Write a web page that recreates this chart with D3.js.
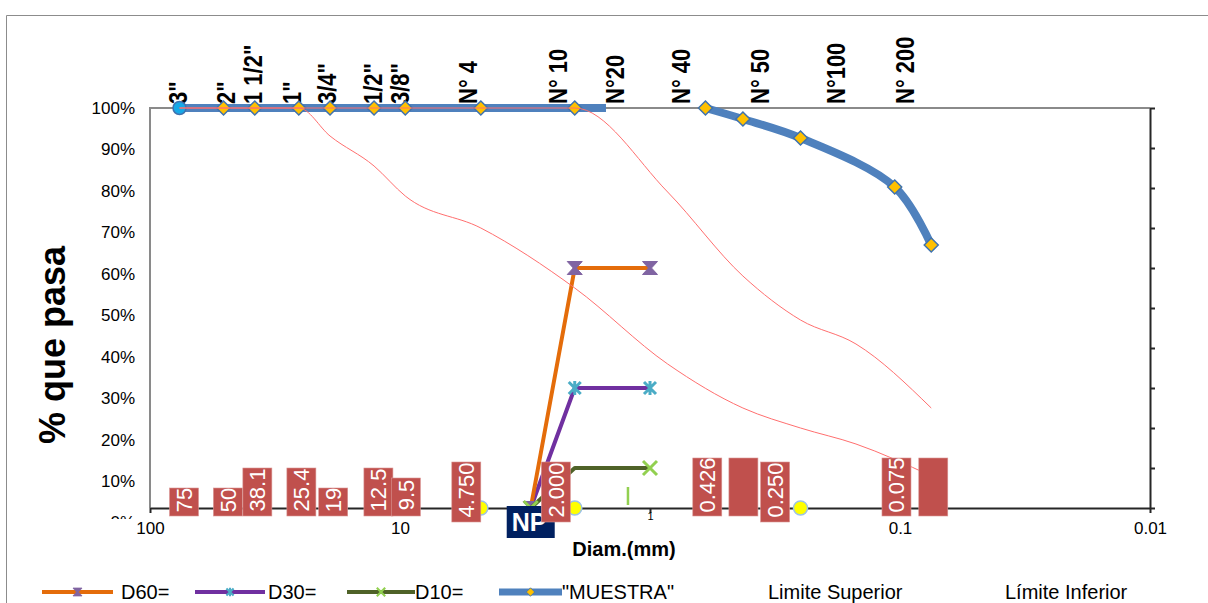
<!DOCTYPE html>
<html>
<head>
<meta charset="utf-8">
<script src="https://cdn.jsdelivr.net/npm/d3@7"></script>
<style>
  body { margin: 0; background: #fff; }
  svg { display: block; font-family: 'Liberation Sans', Arial, sans-serif; }
</style>
</head>
<body>
<div id="chart"></div>
<script>
const fig_width = 1208
const fig_height = 603

// sieve names written along the top (diameter where each name sits, mm)
const sieveNames = ['3"', '2"', '1 1/2"', '1"', '3/4"', '1/2"', '3/8"', 'N° 4', 'N° 10', 'N°20', 'N° 40', 'N° 50', 'N°100', 'N° 200']
const sieveNameAt = [77.3, 49.7, 38.7, 27.0, 19.6, 12.9, 10.0, 5.35, 2.33, 1.38, 0.75, 0.365, 0.18, 0.096]

// "MUESTRA" : coarse part and fine part (mm, % passing)
const muestraDiam1 = [76.2, 50.8, 38.1, 25.4, 19.05, 12.7, 9.525, 4.75, 2.0, 1.5]
const muestraPass1 = [100, 100, 100, 100, 100, 100, 100, 100, 100, 100]
const muestraDiam2 = [0.6, 0.425, 0.25, 0.105, 0.075]
const muestraPass2 = [100, 97.25, 92.5, 80.25, 65.75]

// limits
const limDiam = [76.2, 50.8, 38.1, 25.4, 19.05, 12.7, 9.525, 4.75, 2.0, 0.85, 0.425, 0.25, 0.15, 0.075]
const limSupPass = [100, 100, 100, 100, 100, 100, 100, 100, 100, 79, 58, 47, 41, 25]
const limInfPass = [100, 100, 100, 100, 93, 85.5, 78, 70, 55, 36, 25, 20, 16, 8]

// D60 / D30 / D10 helper lines
const dDiam = [3.0, 2.0, 1.0]
const d60Pass = [0, 60, 60]
const d30Pass = [0, 30, 30]
const d10Pass = [0, 10, 10]
const d10Tick = [[1.225, 0.75], [1.225, 5.25]]

// yellow points on the base line
const baseDiam = [9.525, 4.75, 2.0, 0.25]

// red data labels: sitting on the base line / centred a bit above it
const labelTextA = ['75', '50', '38.1', '25.4', '19', '12.5', '9.5', '0.426', '', '0.075', '']
const labelAtA = [73.1, 48.8, 37.2, 24.8, 18.5, 12.2, 9.47, 0.59, 0.423, 0.1033, 0.0736]
const labelTextB = ['4.750', '2.000', '0.250']
const labelAtB = [5.43, 2.38, 0.316]
const npAt = 3.0

// axis ticks
const xTicks = [100, 10, 1, 0.1, 0.01]
const yTicks = d3.range(0, 101, 10)

const legendNames = ['D60=', 'D30=', 'D10=', '"MUESTRA"', 'Limite Superior', 'Límite Inferior']

// colours
const c_orange = '#E46C0A', c_purple = '#7030A0', c_olive = '#4F6228'
const c_blue = '#4F81BD', c_red = '#FF6F6F', c_box = '#C0504D'

let x = d3.scaleLog().domain([100, 0.01]).range([150, 1150])
let y = d3.scaleLinear().domain([0, 100]).range([508, 108])
let yLab = d3.scaleLinear().domain([0, 100]).range([522.5, 108])

let zip = (ds, ps) => ds.map((d, i) => [d, ps[i]])
let line = d3.line().x(d => x(d[0])).y(d => y(d[1]))
let smooth = d3.line().x(d => x(d[0])).y(d => y(d[1])).curve(d3.curveMonotoneX)

let fig = d3.select('#chart')
    .append('svg')
    .attr('width', fig_width)
    .attr('height', fig_height)

fig.append('rect').attr('width', fig_width).attr('height', fig_height).attr('fill', '#fff')

// outer chart border
fig.append('path')
    .attr('d', `M6.5,${fig_height}V15.5H${fig_width}`)
    .attr('fill', 'none').attr('stroke', '#8c8c8c').attr('stroke-width', 1)

// plot frame: grey left and top edges
fig.append('path')
    .attr('d', `M${x(100)},${y(0)}V${y(100)}H${x(0.01)}`)
    .attr('fill', 'none').attr('stroke', '#8a8a8a').attr('stroke-width', 2)

// bottom axis
let xAxis = fig.append('g')
    .attr('transform', `translate(0,${y(0)})`)
    .call(d3.axisBottom(x).tickValues(xTicks).tickSize(5).tickSizeOuter(0)
        .tickFormat(d => d3.format('~g')(d)).tickPadding(9))
xAxis.select('.domain').attr('stroke', '#262626').attr('stroke-width', 2)
xAxis.selectAll('.tick line').attr('stroke', '#262626').attr('stroke-width', 2)
xAxis.selectAll('.tick text').attr('font-size', 17).attr('fill', '#000')
    .attr('font-family', "'Liberation Sans', Arial, sans-serif")
xAxis.selectAll('.tick text').filter(d => d === 1)
    .attr('font-size', 11).attr('y', 4)

// right axis, ticks only
let yAxisR = fig.append('g')
    .attr('transform', `translate(${x(0.01)},0)`)
    .call(d3.axisRight(y).tickValues(yTicks).tickSize(5).tickSizeOuter(0).tickFormat(''))
yAxisR.select('.domain').attr('stroke', '#262626').attr('stroke-width', 2)
yAxisR.selectAll('.tick line').attr('stroke', '#262626').attr('stroke-width', 2)

// left labels (bottom one is cut, as in the original)
fig.append('clipPath').attr('id', 'leftclip')
    .append('rect').attr('x', 0).attr('y', 0).attr('width', 150).attr('height', 519)
let yAxisL = fig.append('g')
    .attr('clip-path', 'url(#leftclip)')
    .append('g')
    .attr('transform', `translate(${x(100)},0)`)
    .call(d3.axisLeft(yLab).tickValues(yTicks).tickSize(0).tickPadding(15).tickFormat(d => d + '%'))
yAxisL.select('.domain').remove()
yAxisL.selectAll('.tick text').attr('font-size', 17).attr('fill', '#000')
    .attr('font-family', "'Liberation Sans', Arial, sans-serif")

// axis titles
fig.append('text')
    .attr('transform', `translate(65,345) rotate(-90)`)
    .attr('text-anchor', 'middle')
    .attr('font-weight', 'bold').attr('font-size', 36)
    .text('% que pasa')
fig.append('text')
    .attr('x', 624).attr('y', 556)
    .attr('text-anchor', 'middle')
    .attr('font-weight', 'bold').attr('font-size', 20)
    .text('Diam.(mm)')

// sieve names on top
fig.selectAll('text.sieve')
    .data(sieveNames)
    .join('text')
    .attr('class', 'sieve')
    .attr('transform', (d, i) => `translate(${x(sieveNameAt[i])},104) rotate(-90) scale(1,1.2)`)
    .attr('dy', '0.35em')
    .attr('font-weight', 'bold').attr('font-size', 22)
    .text(d => d)

// marker shapes
let diamond = 'M0,-7L7,0L0,7L-7,0Z'
let hourglass = 'M-7.5,-6.5H7.5L1.5,0L7.5,6.5H-7.5L-1.5,0Z'
let star = 'M-6,-6L6,6M6,-6L-6,6M0,-7V7'
let cross = 'M-7,-7L7,7M7,-7L-7,7'

// MUESTRA
let m1 = zip(muestraDiam1, muestraPass1)
let m2 = zip(muestraDiam2, muestraPass2)
fig.append('path').attr('d', line(m1))
    .attr('fill', 'none').attr('stroke', c_blue).attr('stroke-width', 8)
fig.append('path').attr('d', d3.line().x(d => x(d[0])).y(d => y(d[1])).curve(d3.curveCatmullRom)(m2))
    .attr('fill', 'none').attr('stroke', c_blue).attr('stroke-width', 8).attr('stroke-linecap', 'round')
fig.selectAll('path.mk-muestra')
    .data(m1.slice(1, -1).concat(m2))
    .join('path')
    .attr('class', 'mk-muestra')
    .attr('transform', d => `translate(${x(d[0])},${y(d[1])})`)
    .attr('d', diamond)
    .attr('fill', '#FFC000').attr('stroke', '#3F72AF').attr('stroke-width', 1.5)
fig.append('circle')
    .attr('cx', x(m1[0][0])).attr('cy', y(m1[0][1])).attr('r', 6.5)
    .attr('fill', '#16A9E8').attr('stroke', '#3F72AF').attr('stroke-width', 1.5)

// D lines
let dLines = [
    {pass: d30Pass, color: c_purple, mark: star, mcolor: '#4BACC6', filled: false, at: [0, 1, 2]},
    {pass: d60Pass, color: c_orange, mark: hourglass, mcolor: '#8064A2', filled: true, at: [0, 1, 2]},
    {pass: d10Pass, color: c_olive, mark: cross, mcolor: '#92D050', filled: false, at: [0, 2]}
]
dLines.forEach(s => {
    let pts = zip(dDiam, s.pass)
    fig.append('path').attr('d', line(pts))
        .attr('fill', 'none').attr('stroke', s.color).attr('stroke-width', 4)
        .attr('stroke-linejoin', 'round')
    fig.selectAll(null)
        .data(s.at.map(i => pts[i]))
        .join('path')
        .attr('transform', d => `translate(${x(d[0])},${y(d[1])})`)
        .attr('d', s.mark)
        .attr('fill', s.filled ? s.mcolor : 'none')
        .attr('stroke', s.mcolor)
        .attr('stroke-width', s.filled ? 1 : 3)
})
fig.append('path').attr('d', line(d10Tick))
    .attr('stroke', '#92D050').attr('stroke-width', 2.5)

// limits
fig.append('path').attr('d', smooth(zip(limDiam, limSupPass)))
    .attr('fill', 'none').attr('stroke', c_red).attr('stroke-width', 1)
fig.append('path').attr('d', smooth(zip(limDiam, limInfPass)))
    .attr('fill', 'none').attr('stroke', c_red).attr('stroke-width', 1)

// yellow points on the base line
fig.selectAll('circle.base')
    .data(baseDiam)
    .join('circle')
    .attr('class', 'base')
    .attr('cx', d => x(d)).attr('cy', y(0)).attr('r', 7)
    .attr('fill', '#FFFF00').attr('stroke', '#9DC3E6').attr('stroke-width', 1.5)

// NP label
fig.append('rect')
    .attr('x', x(npAt) - 24).attr('y', y(0) - 2).attr('width', 48).attr('height', 32)
    .attr('fill', '#002060')
fig.append('text')
    .attr('x', x(npAt) - 19).attr('y', y(0) + 23)
    .attr('font-weight', 'bold').attr('font-size', 25).attr('fill', '#fff')
    .text('NP')

// red data label boxes
let boxW = 29
let boxes = labelTextA.map((t, i) => {
    let h = t ? 8 + 10 * t.length : 58
    return {text: t, cx: x(labelAtA[i]), top: y(0) + 8 - h, h: h}
}).concat(labelTextB.map((t, i) => ({text: t, cx: x(labelAtB[i]), top: y(4) - 30, h: 60})))

boxes.forEach((b, i) => {
    fig.append('clipPath').attr('id', `boxclip${i}`)
        .append('rect').attr('x', b.cx - boxW / 2).attr('y', b.top).attr('width', boxW).attr('height', b.h)
    fig.append('rect')
        .attr('x', b.cx - boxW / 2).attr('y', b.top).attr('width', boxW).attr('height', b.h)
        .attr('fill', c_box).attr('stroke', '#D99694').attr('stroke-width', 0.6)
    fig.append('g').attr('clip-path', `url(#boxclip${i})`)
        .append('text')
        .attr('transform', `translate(${b.cx},${b.top + b.h / 2 - 2}) rotate(-90)`)
        .attr('text-anchor', 'middle').attr('dy', '0.36em')
        .attr('font-size', 22).attr('fill', '#fff')
        .text(b.text)
})

// legend
let legY = 592
let legend = [
    {x0: 42, x1: 113, color: c_orange, w: 4, mark: hourglass, mcolor: '#8064A2', filled: true, tx: 121},
    {x0: 195, x1: 265, color: c_purple, w: 4, mark: star, mcolor: '#4BACC6', filled: false, tx: 268},
    {x0: 347, x1: 415, color: c_olive, w: 4, mark: cross, mcolor: '#92D050', filled: false, tx: 415},
    {x0: 499, x1: 562, color: c_blue, w: 7, mark: diamond, mcolor: '#FFC000', filled: true, tx: 562},
    {tx: 768},
    {tx: 1005}
]
legend.forEach((l, i) => {
    if (l.color) {
        fig.append('line')
            .attr('x1', l.x0).attr('x2', l.x1).attr('y1', legY).attr('y2', legY)
            .attr('stroke', l.color).attr('stroke-width', l.w)
        fig.append('path')
            .attr('transform', `translate(${(l.x0 + l.x1) / 2},${legY}) scale(0.6)`)
            .attr('d', l.mark)
            .attr('fill', l.filled ? l.mcolor : 'none')
            .attr('stroke', l.filled ? (i === 3 ? '#3F72AF' : l.mcolor) : l.mcolor)
            .attr('stroke-width', l.filled ? 1.5 : 3.5)
    }
    fig.append('text')
        .attr('x', l.tx).attr('y', legY + 7)
        .attr('font-size', 20)
        .text(legendNames[i])
})
</script>
</body>
</html>
